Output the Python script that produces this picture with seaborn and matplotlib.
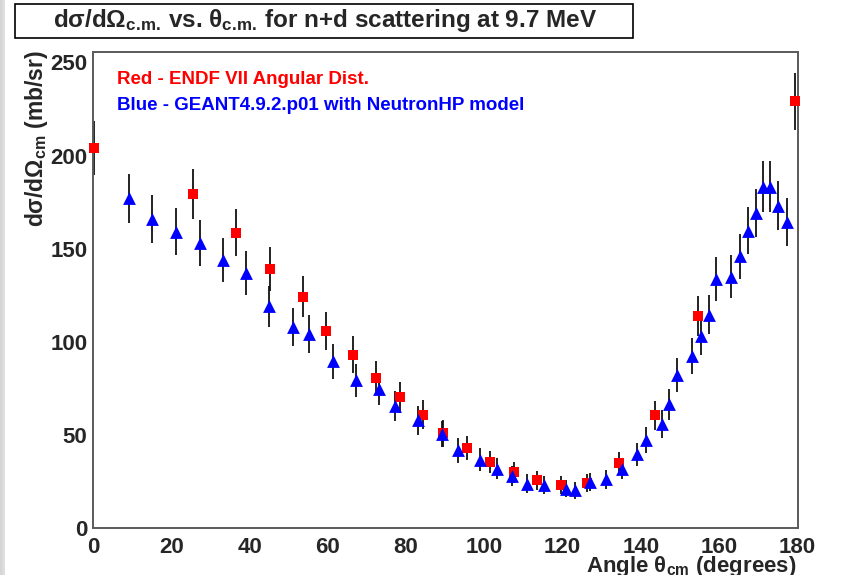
import numpy as np
import pandas as pd
import matplotlib
matplotlib.use("Agg")
import matplotlib.pyplot as plt
from matplotlib.patches import Rectangle
from matplotlib.ticker import MultipleLocator
import seaborn as sns

# ENDF VII angular distribution (red squares)
endf_angle = [0.3, 25.5, 36.5, 45.2, 53.6, 59.5, 66.4, 72.2, 78.4, 84.2,
              89.4, 95.5, 101.4, 107.5, 113.4, 119.5, 126.3, 134.4, 143.5, 154.5,
              179.4]
endf_xs = [204, 179.5, 158.6, 139.3, 124.3, 106, 93.2, 80.9, 70.2, 61,
           50.9, 42.9, 35.4, 30, 25.7, 23, 24.3, 35.2, 60.6, 114,
           229]
endf_err = [14.3, 13.4, 12.6, 11.8, 11.1, 10.3, 9.7, 9.0, 8.4, 7.8,
            7.1, 6.5, 5.9, 5.5, 5.1, 4.8, 4.9, 5.9, 7.8, 10.7,
            15.1]

# GEANT4.9.2.p01 NeutronHP (blue triangles)
g4_angle = [9.3, 15.2, 21.2, 27.3, 33.1, 39.2, 45, 51.1, 55.2, 61.2,
            67.1, 73.1, 77.1, 83.1, 89.1, 93.3, 98.9, 103.1, 107, 111,
            115.2, 120.9, 123.2, 127.1, 131, 135.2, 139, 141.2, 145.3, 147.1,
            149.1, 153.1, 155.4, 157.3, 159.1, 163, 165.2, 167.3, 169.3, 171.1,
            173.1, 175, 177.3]
g4_xs = [177, 166, 159, 153, 144, 137, 119, 108, 104, 89.5,
         79.3, 74.7, 65.4, 57.9, 50.7, 41.8, 36.8, 32, 27.9, 24,
         23, 21.3, 20.4, 24.8, 26.3, 32, 39.7, 47.2, 55.7, 66.5,
         82, 92.3, 103, 114.7, 133.8, 135, 145.9, 159.7, 169.2, 183.3,
         183.3, 173.1, 164.2]
g4_err = [13.3, 12.9, 12.6, 12.4, 12.0, 11.7, 10.9, 10.4, 10.2, 9.5,
          8.9, 8.6, 8.1, 7.6, 7.1, 6.5, 6.1, 5.7, 5.3, 4.9,
          4.8, 4.6, 4.5, 5.0, 5.1, 5.7, 6.3, 6.9, 7.5, 8.2,
          9.1, 9.6, 10.1, 10.7, 11.6, 11.6, 12.1, 12.6, 13.0, 13.5,
          13.5, 13.2, 12.8]

endf = pd.DataFrame({"angle": endf_angle, "xs": endf_xs, "err": endf_err})
g4 = pd.DataFrame({"angle": g4_angle, "xs": g4_xs, "err": g4_err})

sns.set_style("white")
plt.rcParams["font.family"] = ["Liberation Sans", "DejaVu Sans"]
plt.rcParams["font.weight"] = "bold"
plt.rcParams["mathtext.default"] = "regular"

W, H = 868, 575
fig = plt.figure(figsize=(W / 100, H / 100), dpi=100)

# grey strip on the left edge of the screenshot
strip = fig.add_axes([0, 0, 5 / W, 1])
strip.imshow(np.linspace(0.83, 0.88, 16).reshape(1, -1), cmap="gray",
             vmin=0, vmax=1, aspect="auto")
strip.axis("off")

ax = fig.add_axes([93 / W, 1 - 528.3 / H, (797.5 - 93) / W, (528.3 - 51.5) / H])

frame_col = "#5a5a5a"
for s in ax.spines.values():
    s.set_color(frame_col)
    s.set_linewidth(1.4)

ax.errorbar(endf["angle"], endf["xs"], yerr=endf["err"], fmt="none",
            ecolor="#111111", elinewidth=1.3, capsize=0, zorder=2, clip_on=False)
ax.errorbar(g4["angle"], g4["xs"], yerr=g4["err"], fmt="none",
            ecolor="#111111", elinewidth=1.3, capsize=0, zorder=2, clip_on=False)
sns.scatterplot(data=endf, x="angle", y="xs", marker="s", s=52, color="#ff0000",
                linewidth=0, ax=ax, zorder=3, clip_on=False)
sns.scatterplot(data=g4, x="angle", y="xs", marker="^", s=85, color="#0000ff",
                linewidth=0, ax=ax, zorder=3, clip_on=False)

ax.set_xlim(0, 180)
ax.set_ylim(0, 255.8)
ax.xaxis.set_major_locator(MultipleLocator(20))
ax.xaxis.set_minor_locator(MultipleLocator(5))
ax.yaxis.set_major_locator(MultipleLocator(50))
ax.yaxis.set_minor_locator(MultipleLocator(10))
ax.tick_params(axis="both", which="both", direction="in", color=frame_col,
               width=1.2, top=False, right=False)
ax.tick_params(axis="x", which="major", length=9.5, pad=6, labelsize=16)
ax.tick_params(axis="x", which="minor", length=5)
ax.tick_params(axis="y", which="major", length=16, pad=4, labelsize=16)
ax.tick_params(axis="y", which="minor", length=8)
ax.set_xlabel("")
ax.set_ylabel("")

# axis titles (ROOT style: flush with the axis ends)
fig.text(797 / W, 1 - 572 / H, "Angle θ$_{cm}$ (degrees)", ha="right",
         va="baseline", fontsize=16, fontweight="bold")
fig.text(37 / W, 1 - 50 / H, "dσ/dΩ$_{cm}$ (mb/sr)", rotation=90, ha="center",
         va="top", fontsize=16.5, fontweight="bold")

# legend texts inside the frame
fig.text(117 / W, 1 - 80 / H, "Red - ENDF VII Angular Dist.", color="#ff0000",
         ha="left", va="center", fontsize=13.5, fontweight="bold")
fig.text(117 / W, 1 - 106 / H, "Blue - GEANT4.9.2.p01 with NeutronHP model",
         color="#0000ff", ha="left", va="center", fontsize=13.5, fontweight="bold")

# boxed title
fig.patches.append(Rectangle((15 / W, 1 - 38 / H), (633 - 15) / W, 34 / H,
                             transform=fig.transFigure, facecolor="white",
                             edgecolor="black", linewidth=1.2))
fig.text(325 / W, 1 - 21 / H,
         r"dσ/dΩ$_{c.\!m.\!}$ vs. θ$_{c.\!m.\!}$ for n+d scattering at 9.7 MeV",
         ha="center", va="center", fontsize=17.5, fontweight="bold")

fig.savefig("out.png", dpi=100)
